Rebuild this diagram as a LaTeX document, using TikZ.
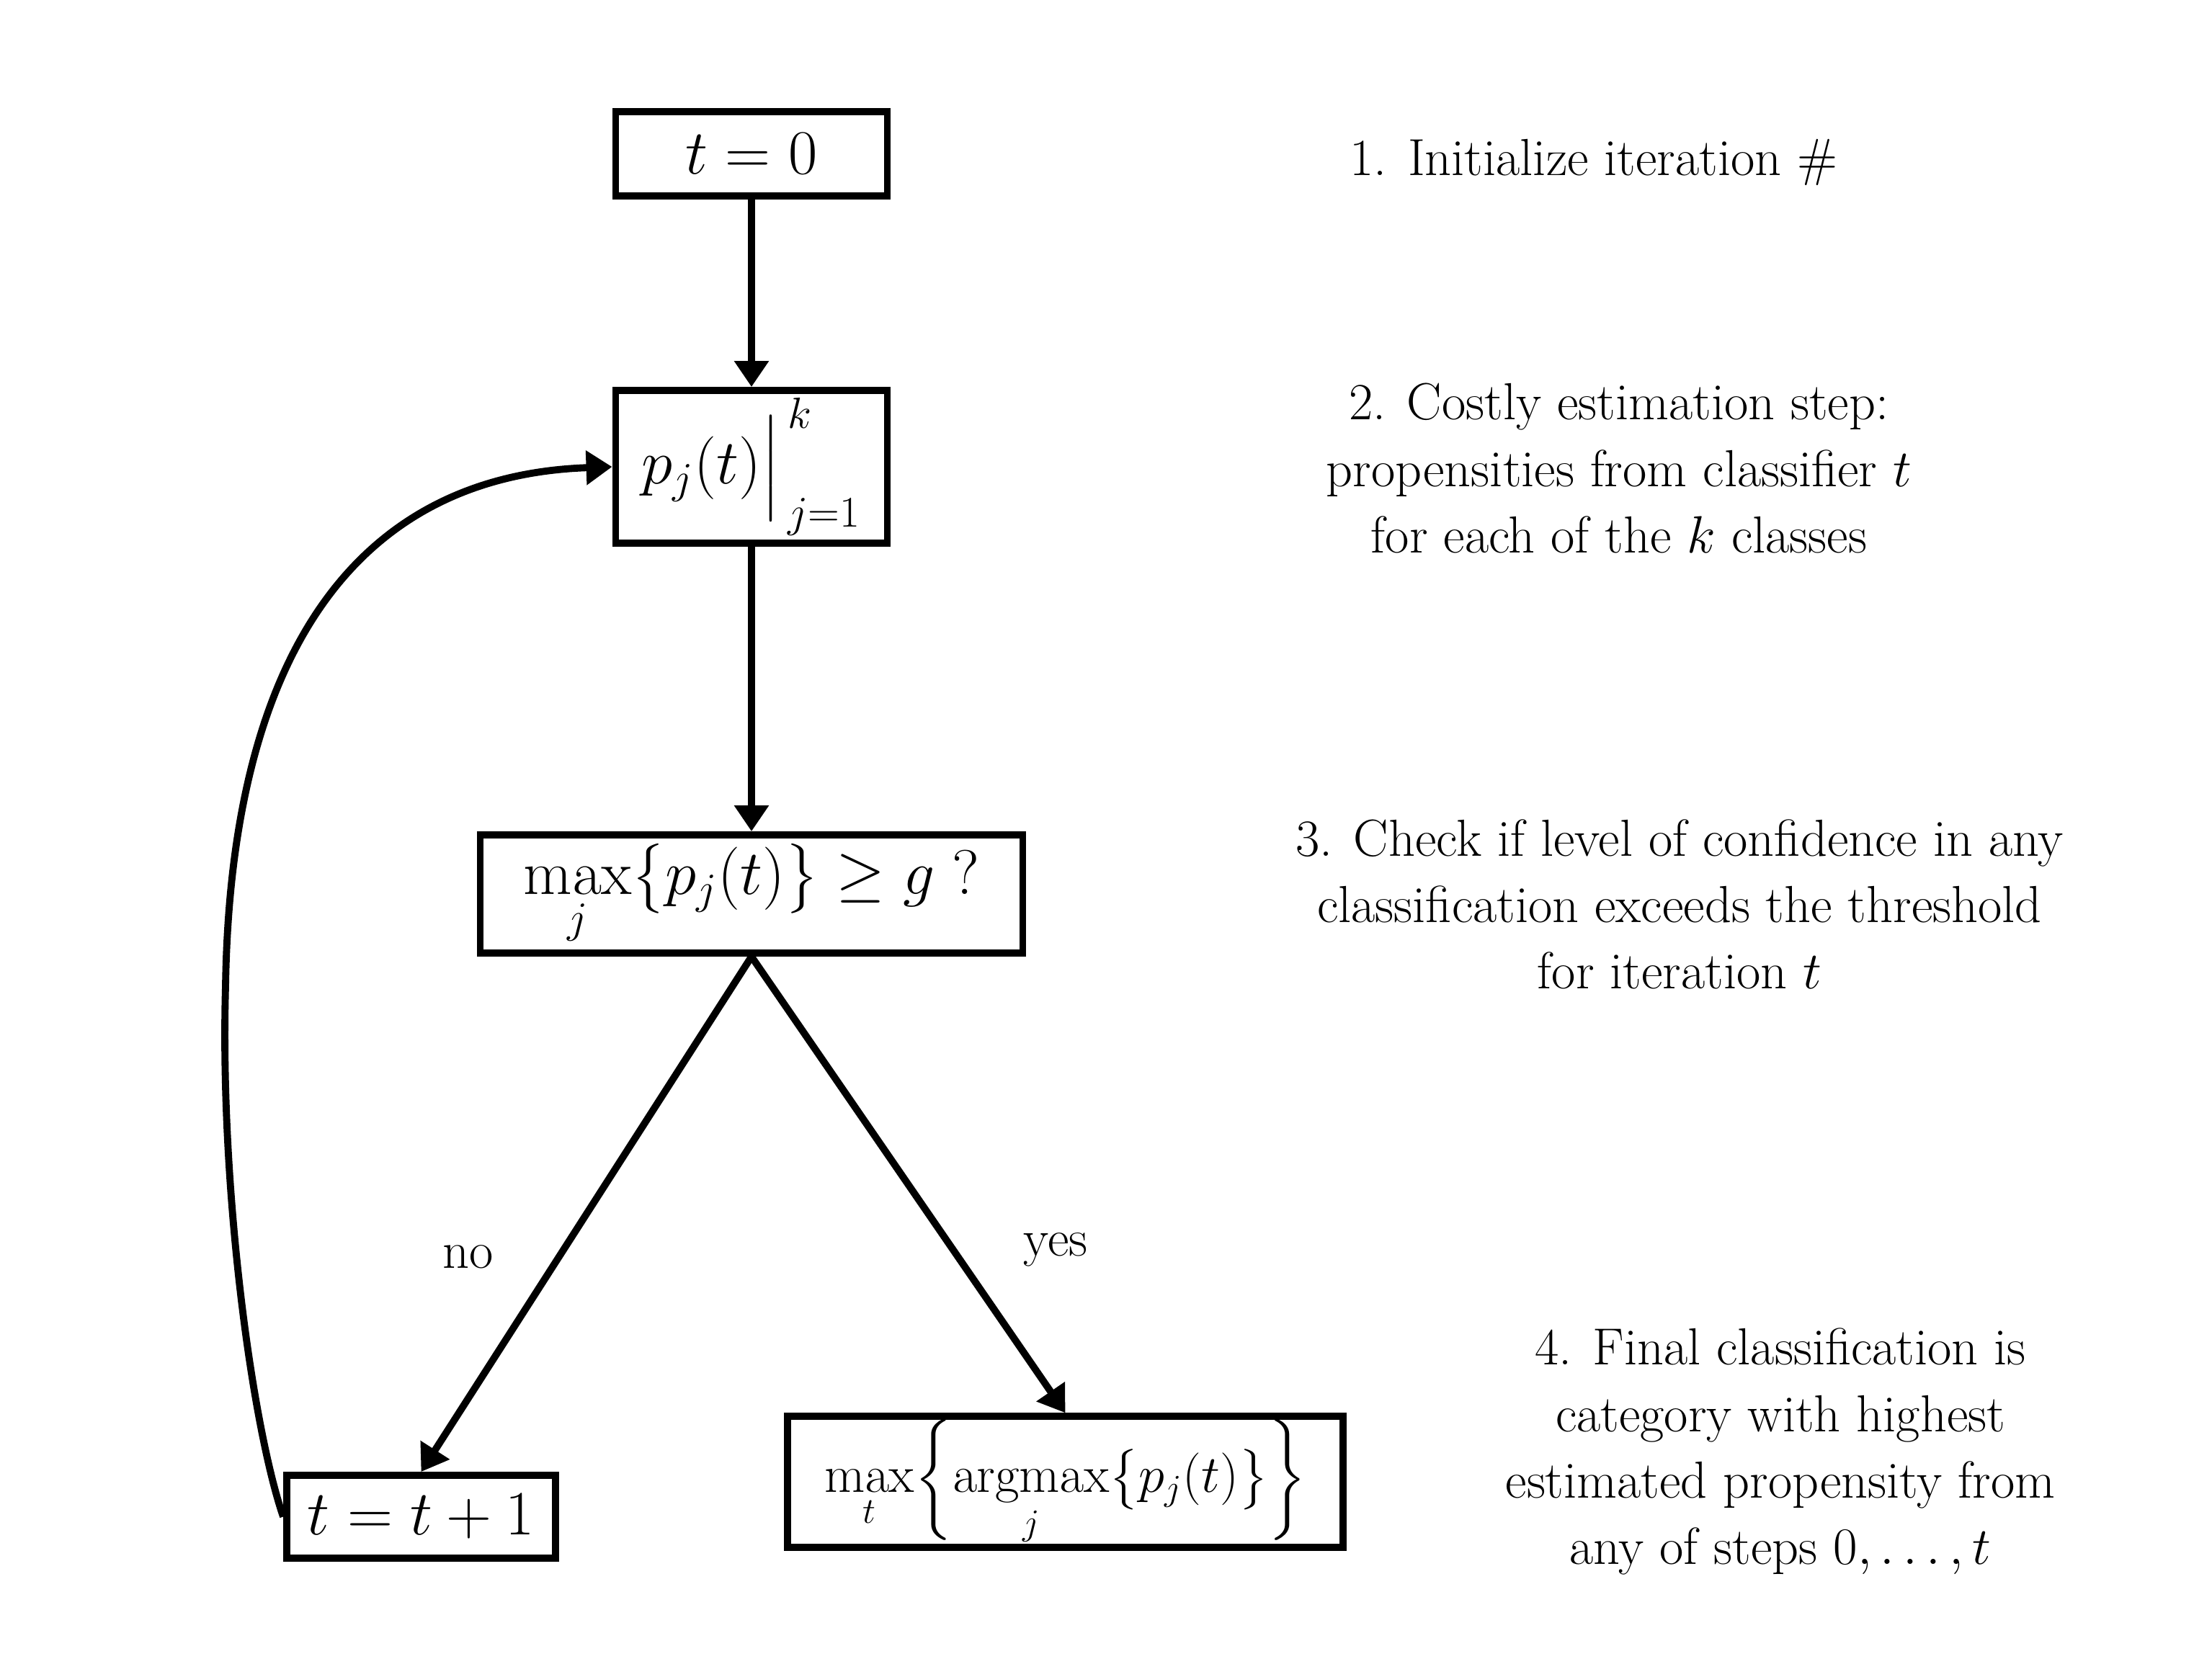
\documentclass[tikz,border=0pt]{standalone}
\usepackage{amsmath,amssymb}
\usetikzlibrary{arrows.meta}

\begin{document}
\begin{tikzpicture}[every node/.style={font=\fontsize{20.6}{26.2}\selectfont},
    box/.style={draw=black, line width=2.8pt, fill=white, inner sep=0pt, font=\fontsize{23}{28}\selectfont},
    flow/.style={line width=2.8pt, -{Triangle[length=0.36cm,width=0.46cm]}}]
    \useasboundingbox (0,0) rectangle (30.7,-23.02);

    % Flow boxes
    \node[box, minimum width=3.77cm, minimum height=1.17cm] (t0) at (10.43,-2.135) {$t = 0$};
    \node[box, minimum width=3.77cm, minimum height=2.12cm] (pj) at (10.43,-6.48) {$p_j(t)\Big|_{\,j=1}^{\,k}$};
    \node[box, minimum width=7.53cm, minimum height=1.64cm] (maxbox) at (10.43,-12.41) {$\displaystyle\max_j\!\big\{p_j(t)\big\} \geq g\ ?$};
    \node[box, minimum width=3.73cm, minimum height=1.15cm] (tplus) at (5.845,-21.055) {$t = t + 1$};
    \node[box, minimum width=7.71cm, minimum height=1.78cm, font=\fontsize{20}{24}\selectfont] (final) at (14.785,-20.57) {$\displaystyle\max_t\!\bigg\{\!\operatorname*{argmax}_j\!\big\{p_j(t)\big\}\bigg\}$};

    % Connectors
    \draw[flow] (t0) -- (pj);
    \draw[flow] (pj) -- (maxbox);
    \draw[flow] (maxbox.south) -- (tplus.north);
    \draw[flow] (maxbox.south) -- (final.north);
    \draw[flow] (tplus.west) .. controls (3.5,-19.8) and (3.05,-16.5) .. (3.13,-13.7)
        .. controls (3.2,-9.0) and (5.0,-6.6) .. (pj.west);

    % Branch labels
    \node (no) at (6.5,-17.45) {no};
    \node (yes) at (14.65,-17.35) {yes};

    % Step descriptions
    \node[anchor=base] (step1) at (22.12,-2.43) {1. Initialize iteration \#};
    \node[align=center] (step2) at (22.47,-6.5) {2. Costly estimation step:\\ propensities from classifier $t$\\ for each of the $k$ classes};
    \node[align=center] (step3) at (23.31,-12.55) {3. Check if level of confidence in any\\ classification exceeds the threshold\\ for iteration $t$};
    \node[align=center] (step4) at (24.71,-20.15) {4. Final classification is\\ category with highest\\ estimated propensity from\\ any of steps $0,\ldots,t$};
\end{tikzpicture}
\end{document}
